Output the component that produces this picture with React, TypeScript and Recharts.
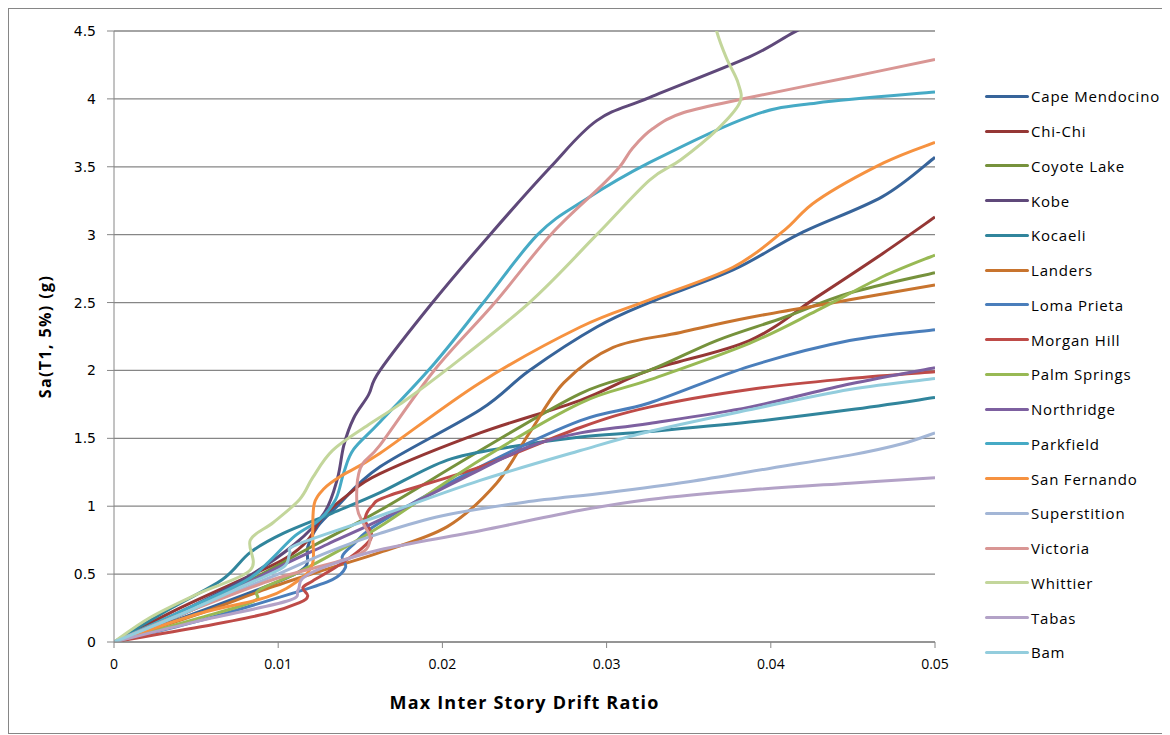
import { LineChart, Line, XAxis, YAxis, CartesianGrid, Label } from "recharts";

// drift ratio, Sa(T1, 5%) pairs
const capeMendocino = [[0, 0], [0.004, 0.17], [0.008, 0.35], [0.0105, 0.47], [0.0117, 0.56], [0.0118, 0.7], [0.0124, 0.85], [0.0136, 1.0], [0.0162, 1.29], [0.0223, 1.71], [0.0253, 2.0], [0.0294, 2.32], [0.0326, 2.5], [0.0377, 2.74], [0.0418, 3.01], [0.0468, 3.28], [0.05, 3.57]];
const chiChi = [[0, 0], [0.004, 0.25], [0.0085, 0.5], [0.0105, 0.62], [0.0118, 0.75], [0.0127, 0.92], [0.0142, 1.08], [0.0162, 1.24], [0.0223, 1.54], [0.0284, 1.78], [0.0326, 2.0], [0.0387, 2.22], [0.0428, 2.54], [0.0468, 2.86], [0.05, 3.13]];
const coyoteLake = [[0, 0], [0.005, 0.25], [0.009, 0.5], [0.012, 0.7], [0.0162, 0.97], [0.0223, 1.41], [0.0284, 1.83], [0.0326, 2.0], [0.0367, 2.22], [0.0408, 2.39], [0.0448, 2.57], [0.05, 2.72]];
const kobe = [[0, 0], [0.004, 0.22], [0.008, 0.47], [0.011, 0.72], [0.0128, 0.95], [0.0136, 1.2], [0.014, 1.45], [0.0146, 1.65], [0.0155, 1.82], [0.0162, 2.0], [0.0194, 2.5], [0.0229, 3.0], [0.0266, 3.5], [0.0294, 3.84], [0.0326, 4.01], [0.0387, 4.31], [0.0414, 4.49], [0.044, 4.65]];
const kocaeli = [[0, 0], [0.0035, 0.25], [0.0066, 0.46], [0.0083, 0.66], [0.0103, 0.8], [0.0133, 0.95], [0.0162, 1.1], [0.0203, 1.34], [0.0243, 1.44], [0.0284, 1.51], [0.0326, 1.55], [0.0387, 1.62], [0.0448, 1.71], [0.05, 1.8]];
const landers = [[0, 0], [0.005, 0.2], [0.0095, 0.4], [0.0133, 0.55], [0.0162, 0.66], [0.0203, 0.85], [0.0233, 1.17], [0.0253, 1.54], [0.0274, 1.91], [0.0304, 2.17], [0.0345, 2.28], [0.0387, 2.39], [0.0448, 2.52], [0.05, 2.63]];
const lomaPrieta = [[0, 0], [0.005, 0.15], [0.0109, 0.36], [0.0133, 0.46], [0.0141, 0.55], [0.0139, 0.63], [0.0146, 0.72], [0.0162, 0.88], [0.0223, 1.29], [0.0284, 1.63], [0.0326, 1.76], [0.0387, 2.03], [0.0448, 2.22], [0.05, 2.3]];
const morganHill = [[0, 0], [0.0052, 0.11], [0.0093, 0.21], [0.0113, 0.29], [0.0118, 0.34], [0.0115, 0.4], [0.0121, 0.45], [0.0135, 0.55], [0.015, 0.68], [0.0157, 0.78], [0.0153, 0.9], [0.0157, 1.0], [0.0168, 1.08], [0.0223, 1.29], [0.0284, 1.58], [0.0326, 1.73], [0.0387, 1.86], [0.0448, 1.94], [0.05, 1.99]];
const palmSprings = [[0, 0], [0.005, 0.17], [0.0085, 0.3], [0.0088, 0.38], [0.011, 0.5], [0.0135, 0.66], [0.0162, 0.85], [0.0223, 1.34], [0.0284, 1.76], [0.0326, 1.93], [0.0387, 2.2], [0.0428, 2.44], [0.0468, 2.69], [0.05, 2.85]];
const northridge = [[0, 0], [0.005, 0.25], [0.01, 0.55], [0.013, 0.72], [0.0162, 0.9], [0.0223, 1.27], [0.0253, 1.44], [0.0284, 1.54], [0.0326, 1.61], [0.0387, 1.73], [0.0448, 1.9], [0.05, 2.02]];
const parkfield = [[0, 0], [0.004, 0.22], [0.008, 0.45], [0.0095, 0.6], [0.011, 0.78], [0.0125, 0.9], [0.0135, 1.05], [0.014, 1.25], [0.0146, 1.42], [0.0162, 1.62], [0.0195, 2.05], [0.0225, 2.5], [0.0258, 3.0], [0.0286, 3.25], [0.0326, 3.53], [0.0387, 3.87], [0.0428, 3.97], [0.05, 4.05]];
const sanFernando = [[0, 0], [0.0052, 0.21], [0.0093, 0.33], [0.0113, 0.46], [0.0121, 0.58], [0.0121, 0.8], [0.0122, 1.02], [0.0128, 1.13], [0.0138, 1.22], [0.0162, 1.39], [0.0223, 1.91], [0.0284, 2.32], [0.0326, 2.52], [0.0377, 2.76], [0.0408, 3.03], [0.0428, 3.25], [0.0469, 3.53], [0.05, 3.68]];
const superstition = [[0, 0], [0.005, 0.25], [0.01, 0.5], [0.013, 0.66], [0.0162, 0.8], [0.02, 0.93], [0.025, 1.03], [0.03, 1.1], [0.035, 1.18], [0.04, 1.28], [0.045, 1.38], [0.048, 1.46], [0.05, 1.54]];
const victoria = [[0, 0], [0.004, 0.2], [0.0097, 0.46], [0.0146, 0.63], [0.0156, 0.75], [0.0152, 0.87], [0.0148, 1.0], [0.015, 1.28], [0.0162, 1.45], [0.0195, 2.0], [0.0232, 2.5], [0.0266, 3.0], [0.0296, 3.35], [0.0308, 3.5], [0.0316, 3.64], [0.0328, 3.78], [0.0347, 3.9], [0.0387, 4.01], [0.0448, 4.16], [0.05, 4.29]];
const whittier = [[0, 0], [0.0022, 0.18], [0.0052, 0.36], [0.0083, 0.53], [0.0083, 0.75], [0.0097, 0.88], [0.0113, 1.05], [0.0121, 1.21], [0.0133, 1.41], [0.0155, 1.6], [0.0174, 1.75], [0.0202, 2.0], [0.0253, 2.5], [0.0294, 3.0], [0.0326, 3.4], [0.0345, 3.55], [0.0367, 3.77], [0.0381, 3.97], [0.038, 4.12], [0.0373, 4.3], [0.0367, 4.5], [0.0366, 4.6]];
const tabas = [[0, 0], [0.005, 0.15], [0.0105, 0.3], [0.0112, 0.38], [0.0115, 0.47], [0.013, 0.56], [0.0162, 0.68], [0.0223, 0.82], [0.0284, 0.97], [0.0326, 1.05], [0.0387, 1.12], [0.0448, 1.17], [0.05, 1.21]];
const bam = [[0, 0], [0.004, 0.2], [0.008, 0.42], [0.0103, 0.55], [0.0107, 0.65], [0.0112, 0.72], [0.0162, 0.93], [0.0223, 1.19], [0.0284, 1.41], [0.0326, 1.55], [0.0387, 1.71], [0.0448, 1.86], [0.05, 1.94]];

const xTicks = [0, 0.01, 0.02, 0.03, 0.04, 0.05];
const yTicks = [0, 0.5, 1, 1.5, 2, 2.5, 3, 3.5, 4, 4.5];

const series = [
  { name: "Cape Mendocino", pts: capeMendocino, color: "#37649A" },
  { name: "Chi-Chi", pts: chiChi, color: "#953735" },
  { name: "Coyote Lake", pts: coyoteLake, color: "#76923C" },
  { name: "Kobe", pts: kobe, color: "#5F497A" },
  { name: "Kocaeli", pts: kocaeli, color: "#31859C" },
  { name: "Landers", pts: landers, color: "#C8742E" },
  { name: "Loma Prieta", pts: lomaPrieta, color: "#4A7EBB" },
  { name: "Morgan Hill", pts: morganHill, color: "#BE4B48" },
  { name: "Palm Springs", pts: palmSprings, color: "#98B954" },
  { name: "Northridge", pts: northridge, color: "#7D60A0" },
  { name: "Parkfield", pts: parkfield, color: "#46AAC5" },
  { name: "San Fernando", pts: sanFernando, color: "#F69240" },
  { name: "Superstition", pts: superstition, color: "#A3B6D6" },
  { name: "Victoria", pts: victoria, color: "#D99694" },
  { name: "Whittier", pts: whittier, color: "#C3D69B" },
  { name: "Tabas", pts: tabas, color: "#B3A2C7" },
  { name: "Bam", pts: bam, color: "#93CDDD" },
];

const grey = "#868686";

// Excel-style smoothed line: uniform Catmull-Rom through the points
function excelSmooth(context: any) {
  let pts: number[][] = [];
  return {
    areaStart() {},
    areaEnd() {},
    lineStart() {
      pts = [];
    },
    point(x: number, y: number) {
      pts.push([+x, +y]);
    },
    lineEnd() {
      if (!pts.length) return;
      context.moveTo(pts[0][0], pts[0][1]);
      for (let i = 0; i < pts.length - 1; i++) {
        const p0 = pts[i - 1] || pts[i];
        const p1 = pts[i];
        const p2 = pts[i + 1];
        const p3 = pts[i + 2] || p2;
        context.bezierCurveTo(
          p1[0] + (p2[0] - p0[0]) / 6,
          p1[1] + (p2[1] - p0[1]) / 6,
          p2[0] - (p3[0] - p1[0]) / 6,
          p2[1] - (p3[1] - p1[1]) / 6,
          p2[0],
          p2[1]
        );
      }
    },
  };
}

const YTitle = (props: any) => {
  const { viewBox } = props;
  const cx = viewBox.x - 9;
  const cy = viewBox.y + viewBox.height / 2;
  return (
    <text
      x={cx}
      y={cy}
      transform={`rotate(-90 ${cx} ${cy})`}
      textAnchor="middle"
      dominantBaseline="central"
      fontFamily="Open Sans"
      fontWeight="bold"
      fontSize={16}
      letterSpacing={1.4}
      fill="#000"
    >
      Sa(T1, 5%) (g)
    </text>
  );
};

const XTitle = (props: any) => {
  const { viewBox } = props;
  const cx = viewBox.x + viewBox.width / 2;
  const cy = viewBox.y + 60;
  return (
    <text
      x={cx}
      y={cy}
      textAnchor="middle"
      dominantBaseline="central"
      fontFamily="Open Sans"
      fontWeight="bold"
      fontSize={18}
      letterSpacing={1.2}
      fill="#000"
    >
      Max Inter Story Drift Ratio
    </text>
  );
};

export default function App() {
  return (
    <div
      style={{
        position: "relative",
        width: 1159,
        height: 724,
        border: `1px solid ${grey}`,
        background: "#fff",
      }}
    >
      <LineChart
        width={1159}
        height={724}
        margin={{ top: 22, right: 233, bottom: 61, left: 45 }}
      >
        <CartesianGrid vertical={false} stroke={grey} strokeWidth={1.3} />
        <XAxis
          type="number"
          dataKey="x"
          domain={[0, 0.05]}
          ticks={xTicks}
          allowDataOverflow
          height={30}
          stroke={grey}
          tickSize={6}
          tickMargin={11}
          tick={{ fill: "#000", fontSize: 14, fontFamily: "Open Sans" }}
        >
          <Label content={<XTitle />} />
        </XAxis>
        <YAxis
          type="number"
          dataKey="y"
          domain={[0, 4.5]}
          ticks={yTicks}
          allowDataOverflow
          width={60}
          stroke={grey}
          tickSize={7}
          tickMargin={11}
          tick={{ fill: "#000", fontSize: 14, fontFamily: "DejaVu Sans" }}
        >
          <Label content={<YTitle />} />
        </YAxis>
        {series.map((s) => (
          <Line
            key={s.name}
            name={s.name}
            data={s.pts.map(([x, y]) => ({ x, y }))}
            dataKey="y"
            type={excelSmooth as any}
            stroke={s.color}
            strokeWidth={3}
            dot={false}
            activeDot={false}
            isAnimationActive={false}
          />
        ))}
      </LineChart>
      <div style={{ position: "absolute", left: 976, top: 70 }}>
        {series.map((s) => (
          <div
            key={s.name}
            style={{ display: "flex", alignItems: "center", height: 34.75, whiteSpace: "nowrap" }}
          >
            <div style={{ width: 44, height: 3, background: s.color, borderRadius: 2 }} />
            <span
              style={{
                marginLeft: 2,
                fontFamily: "Open Sans",
                fontSize: 15,
                letterSpacing: 0.8,
                color: "#000",
              }}
            >
              {s.name}
            </span>
          </div>
        ))}
      </div>
    </div>
  );
}
